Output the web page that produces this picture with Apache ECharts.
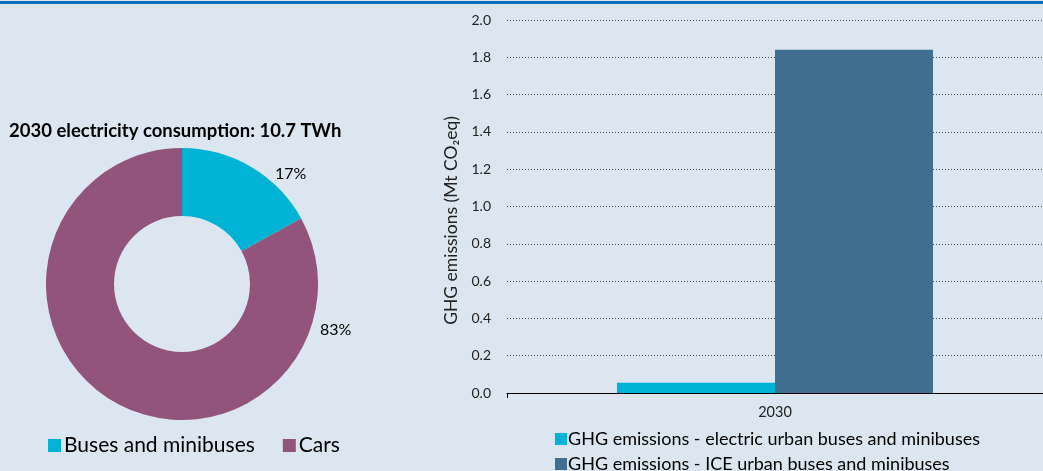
<!DOCTYPE html>
<html><head><meta charset="utf-8">
<script src="https://cdn.jsdelivr.net/npm/echarts@6/dist/echarts.min.js"></script>
<style>html,body{margin:0;padding:0;background:#dce6f1;}#c{width:1043px;height:471px;}</style>
</head><body><div id="c"></div>
<script>
const pieTitle = '2030 electricity consumption: 10.7 TWh';
const pieNames = ['Buses and minibuses', 'Cars'];
const pieValues = [17, 83];
const barCategories = ['2030'];
const barSeriesNames = ['GHG emissions - electric urban buses and minibuses', 'GHG emissions - ICE urban buses and minibuses'];
const electricValues = [0.055];
const iceValues = [1.84];
const yTicks = {min: 0, max: 2.0, interval: 0.2};
const yAxisName = 'GHG emissions (Mt CO\u2082eq)';

const FONT = 'Lato';
const cCyan = '#00b3d4', cPurple = '#93547b', cBlue = '#416f91';
const barLegend = (name, top) => ({
  data: [name], left: 550, top: top, itemWidth: 12, itemHeight: 12, icon: 'rect',
  textStyle: {fontFamily: FONT, fontSize: 18, color: '#000', padding: [0, 0, 0, -4]}
});
const chart = echarts.init(document.getElementById('c'));
chart.setOption({
  backgroundColor: '#dce6f1',
  textStyle: {fontFamily: FONT},
  animation: false,
  graphic: [{type: 'rect', shape: {x: 0, y: 1, width: 1043, height: 3}, style: {fill: '#0a6fc2'}}],
  title: {text: pieTitle, left: 4, top: 117, textStyle: {fontFamily: FONT, fontSize: 18.5, fontWeight: 'bold', color: '#000'}},
  legend: [{
    data: pieNames, left: 43, top: 430, itemWidth: 13, itemHeight: 13, itemGap: 28, icon: 'rect',
    textStyle: {fontFamily: FONT, fontSize: 21, color: '#000', padding: [0, 0, 0, -2]}
  }, barLegend(barSeriesNames[0], 425), barLegend(barSeriesNames[1], 450)],
  grid: {left: 507, top: 20, right: -8, bottom: 78},
  xAxis: {type: 'category', data: barCategories,
    axisLine: {lineStyle: {color: '#000', width: 1}},
    axisTick: {show: true, length: 5, lineStyle: {color: '#000'}},
    axisLabel: {color: '#222', fontSize: 14.5, margin: 12}},
  yAxis: {type: 'value', min: yTicks.min, max: yTicks.max, interval: yTicks.interval,
    name: yAxisName, nameLocation: 'middle', nameGap: 47,
    nameTextStyle: {color: '#222', fontSize: 17.5, padding: [0, 28, 0, 0]},
    axisLine: {show: false}, axisTick: {show: false},
    axisLabel: {color: '#222', fontSize: 14, margin: 16, formatter: v => v.toFixed(1)},
    splitLine: {lineStyle: {color: '#444', type: [1, 2], width: 1}}},
  series: [{
    type: 'pie', name: 'pie', center: [182, 284], radius: [68, 136], startAngle: 90, clockwise: true,
    data: pieNames.map((n, i) => ({name: n, value: pieValues[i], itemStyle: {color: [cCyan, cPurple][i]}})),
    label: {show: true, formatter: '{c}%', fontSize: 16, color: '#000', fontFamily: FONT},
    labelLine: {show: false},
    labelLayout: p => p.dataIndex === 0 ? {x: 275, y: 174, align: 'left', verticalAlign: 'middle'} : {x: 320, y: 330, align: 'left', verticalAlign: 'middle'},
    emphasis: {disabled: true}
  }, {
    type: 'bar', name: barSeriesNames[0], data: electricValues, barWidth: 158, barGap: '0%', itemStyle: {color: cCyan}
  }, {
    type: 'bar', name: barSeriesNames[1], data: iceValues, barWidth: 158, barGap: '0%', itemStyle: {color: cBlue}
  }]
});
</script></body></html>
